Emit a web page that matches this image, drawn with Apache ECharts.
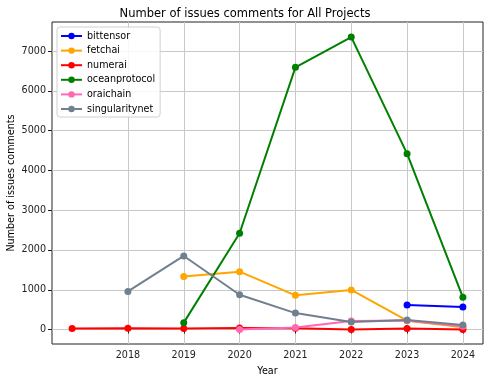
<!DOCTYPE html>
<html><head><meta charset="utf-8">
<script src="https://cdn.jsdelivr.net/npm/echarts@6/dist/echarts.min.js"></script>
<style>html,body{margin:0;padding:0;background:#fff}#c{width:490px;height:381px}</style>
</head><body><div id="c"></div>
<script>
const years = [2017, 2018, 2019, 2020, 2021, 2022, 2023, 2024];
const xTicks = [2018, 2019, 2020, 2021, 2022, 2023, 2024];
const yTicks = [0, 1000, 2000, 3000, 4000, 5000, 6000, 7000];
const bittensor = [null, null, null, null, null, null, 620, 570];
const fetchai = [null, null, 1335, 1455, 860, 995, 225, 60];
const numerai = [25, 35, 30, 40, 35, 5, 25, 0];
const oceanprotocol = [null, null, 175, 2420, 6590, 7350, 4420, 810];
const oraichain = [null, null, null, 0, 50, 215, 230, 85];
const singularitynet = [null, 960, 1850, 875, 415, 190, 240, 115];

const names = ['bittensor','fetchai','numerai','oceanprotocol','oraichain','singularitynet'];
const values = [bittensor, fetchai, numerai, oceanprotocol, oraichain, singularitynet];
const colors = ['#0000ff','#ffa500','#ff0000','#008000','#ff69b4','#708090'];

const font = 'DejaVu Sans';
const fs = 9.6;
const series = names.map((n, i) => ({
  name: n,
  type: 'line',
  data: years.map((y, j) => values[i][j] === null ? null : [y, values[i][j]]).filter(d => d),
  color: colors[i],
  symbol: 'circle',
  symbolSize: 7,
  lineStyle: { width: 2, color: colors[i] },
  itemStyle: { color: colors[i] },
  z: 2 + i,
  animation: false
}));

const chart = echarts.init(document.getElementById('c'), null, { renderer: 'canvas' });
chart.setOption({
  animation: false,
  title: {
    text: 'Number of issues comments for All Projects',
    left: 'center', top: 3,
    textStyle: { fontFamily: font, fontSize: 11.5, fontWeight: 'normal', color: '#000' }
  },
  grid: { left: 52, right: 7, top: 22, bottom: 37, containLabel: false, outerBoundsMode: 'none', show: true, borderColor: '#222', borderWidth: 1, backgroundColor: 'transparent' },
  legend: {
    orient: 'vertical', left: 57, top: 27,
    data: names,
    itemWidth: 21, itemHeight: 8, itemGap: 4.6,
    padding: [4, 5, 3, 3],
    backgroundColor: 'rgba(255,255,255,0.85)',
    borderColor: '#d0d0d0', borderWidth: 1, borderRadius: 3,
    textStyle: { fontFamily: font, fontSize: fs, color: '#000' }
  },
  xAxis: {
    type: 'value', min: 2016.64, max: 2024.36,
    name: 'Year', nameLocation: 'middle', nameGap: 22, nameMoveOverlap: false,
    nameTextStyle: { fontFamily: font, fontSize: fs, color: '#000' },
    axisLine: { show: false },
    axisTick: { show: true, length: 4, inside: false, customValues: xTicks, lineStyle: { color: '#222' } },
    axisLabel: { customValues: xTicks, fontFamily: font, fontSize: fs, color: '#222', margin: 6, formatter: v => String(v) },
    splitLine: { show: true, customValues: xTicks, lineStyle: { color: '#c8c8c8', width: 1 } }
  },
  yAxis: {
    type: 'value', min: -362, max: 7729,
    name: 'Number of issues comments', nameLocation: 'middle', nameGap: 36, nameMoveOverlap: false,
    nameTextStyle: { fontFamily: font, fontSize: fs, color: '#000' },
    axisLine: { show: false },
    axisTick: { show: true, length: 4, customValues: yTicks, lineStyle: { color: '#222' } },
    axisLabel: { customValues: yTicks, fontFamily: font, fontSize: fs, color: '#222', margin: 6, formatter: v => String(v) },
    splitLine: { show: true, customValues: yTicks, lineStyle: { color: '#c8c8c8', width: 1 } }
  },
  series: series
});
</script>
</body></html>
